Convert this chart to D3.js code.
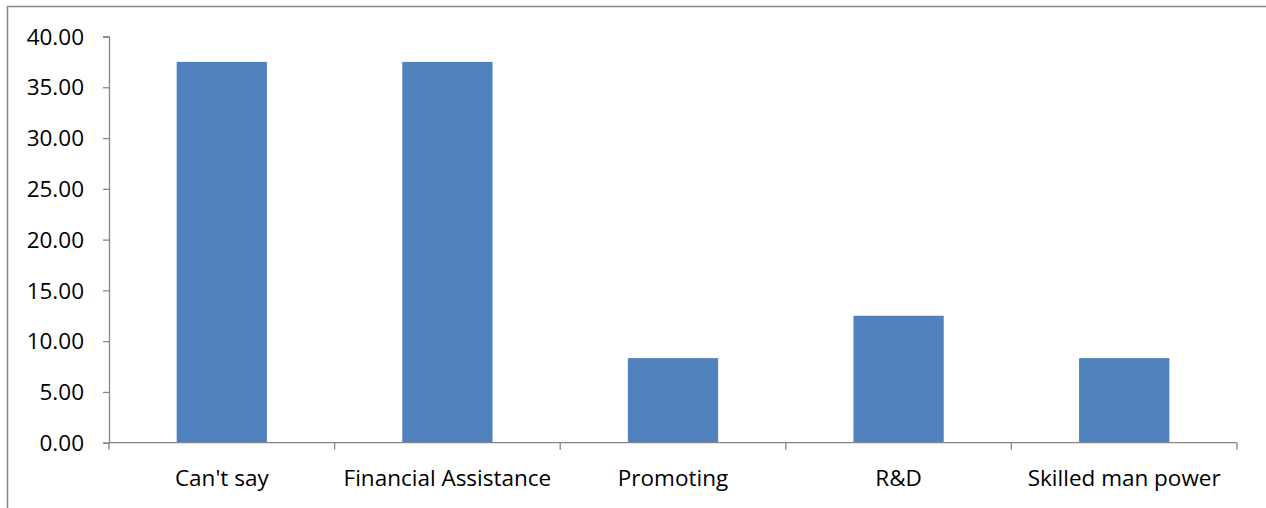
<!DOCTYPE html>
<html>
<head>
<meta charset="utf-8">
<script src="https://cdn.jsdelivr.net/npm/d3@7"></script>
<style>
  html, body { margin: 0; padding: 0; background: #fff; }
  svg { display: block; }
  text { font-family: "Open Sans", "Noto Sans", sans-serif; fill: #000; }
</style>
</head>
<body>
<svg id="chart" width="1266" height="508"></svg>
<script>
// Responses by category (percent)
const categories = ["Can't say", "Financial Assistance", "Promoting", "R&D", "Skilled man power"];
const values = [37.5, 37.5, 8.33, 12.5, 8.33];
const yTicks = [0, 5, 10, 15, 20, 25, 30, 35, 40];

const svg = d3.select("#chart");
const W = 1266, H = 508;
const plot = { left: 109, right: 1237, top: 36.5, bottom: 442.7 };

// outer frame
svg.append("rect")
  .attr("x", 7.5).attr("y", 6.5)
  .attr("width", W).attr("height", H)
  .attr("fill", "none").attr("stroke", "#868686").attr("stroke-width", 1.5);

const x = d3.scaleBand().domain(categories).range([plot.left, plot.right]).paddingInner(0.6).paddingOuter(0.3);
const xBoundary = d3.scaleLinear().domain([0, categories.length]).range([plot.left, plot.right]);
const y = d3.scaleLinear().domain([0, 40]).range([plot.bottom, plot.top]);

// bars
svg.append("g").selectAll("rect")
  .data(categories)
  .join("rect")
  .attr("x", d => x(d))
  .attr("width", x.bandwidth())
  .attr("y", (d, i) => y(values[i]))
  .attr("height", (d, i) => y(0) - y(values[i]))
  .attr("fill", "#4F81BD");

// y axis
const yAxis = svg.append("g")
  .attr("transform", `translate(${plot.left},0)`)
  .call(d3.axisLeft(y).tickValues(yTicks).tickSize(6).tickPadding(19).tickFormat(d3.format(".2f")));
yAxis.select(".domain").attr("stroke", "#868686").attr("stroke-width", 1.3);
yAxis.selectAll(".tick line").attr("stroke", "#868686").attr("stroke-width", 1.3);
yAxis.selectAll(".tick text").style("font-size", "22.5px").attr("fill", "#000").attr("dy", "0.34em");

// x axis: baseline plus boundary ticks between categories
const xAxisG = svg.append("g");
xAxisG.append("line")
  .attr("x1", plot.left).attr("x2", plot.right)
  .attr("y1", y(0)).attr("y2", y(0))
  .attr("stroke", "#868686").attr("stroke-width", 1.3);
xAxisG.selectAll("line.tk")
  .data(d3.range(categories.length + 1))
  .join("line")
  .attr("class", "tk")
  .attr("x1", d => xBoundary(d)).attr("x2", d => xBoundary(d))
  .attr("y1", y(0)).attr("y2", y(0) + 7)
  .attr("stroke", "#868686").attr("stroke-width", 1.3);
xAxisG.selectAll("text")
  .data(categories)
  .join("text")
  .attr("x", d => x(d) + x.bandwidth() / 2)
  .attr("y", 486)
  .attr("text-anchor", "middle")
  .style("font-size", "22.5px")
  .text(d => d);
</script>
</body>
</html>
